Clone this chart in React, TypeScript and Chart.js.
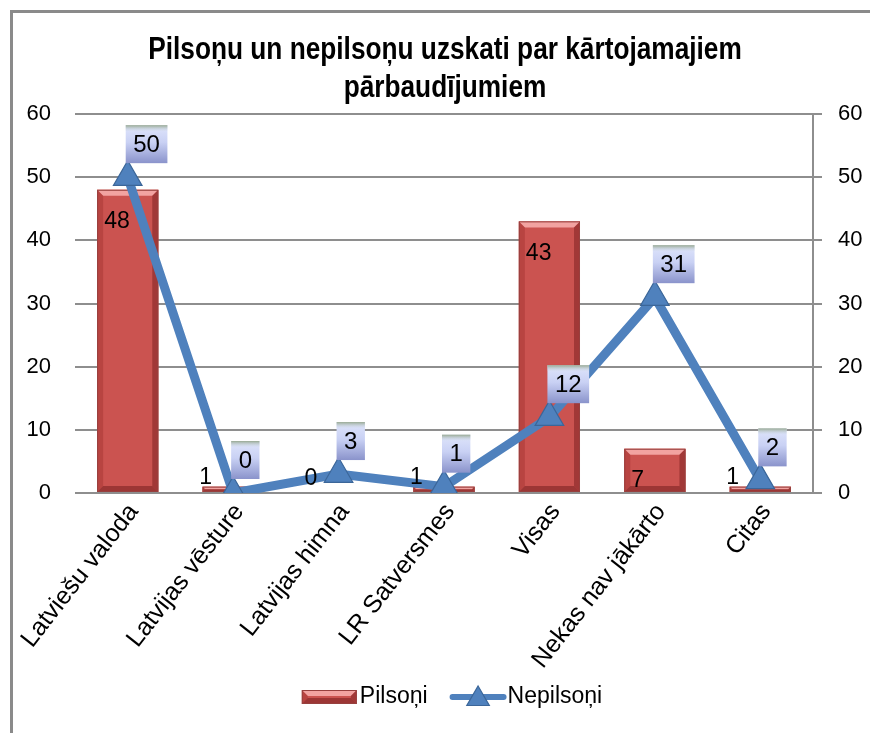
import React, { useEffect, useRef } from "react";
import { Chart, registerables } from "chart.js";

Chart.register(...registerables);

const categories = [
  "Latviešu valoda",
  "Latvijas vēsture",
  "Latvijas himna",
  "LR Satversmes",
  "Visas",
  "Nekas nav jākārto",
  "Citas",
];
const pilsoni = [48, 1, 0, 1, 43, 7, 1];
const nepilsoni = [50, 0, 3, 1, 12, 31, 2];
const seriesNames = ["Pilsoņi", "Nepilsoņi"];
const titleLines = ["Pilsoņu un nepilsoņu uzskati par kārtojamajiem", "pārbaudījumiem"];
const yMin = 0;
const yMax = 60;
const yStep = 10;

const FONT = "'Liberation Sans', Arial, sans-serif";
const BAR_COLOR = "#cb5350";
const LINE_COLOR = "#4f81bd";
const GRID = "#8e8e8e";

const TITLE_SIZE = 32;
const TITLE_LH = 38;
const TITLE_PAD_TOP = 31;
const TITLE_SQUEEZE = 0.82;

function drawBevelRect(ctx: CanvasRenderingContext2D, left: number, top: number, right: number, bottom: number) {
  const w = right - left;
  const h = bottom - top;
  if (h <= 0 || w <= 0) return;
  ctx.save();
  ctx.fillStyle = BAR_COLOR;
  ctx.fillRect(left, top, w, h);
  const b = Math.min(6, h / 2, w / 2);
  ctx.fillStyle = "rgba(255,190,188,0.75)";
  ctx.beginPath();
  ctx.moveTo(left, top);
  ctx.lineTo(right, top);
  ctx.lineTo(right - b, top + b);
  ctx.lineTo(left + b, top + b);
  ctx.closePath();
  ctx.fill();
  ctx.fillStyle = "rgba(150,40,38,0.35)";
  ctx.beginPath();
  ctx.moveTo(left, top);
  ctx.lineTo(left + b, top + b);
  ctx.lineTo(left + b, bottom - b);
  ctx.lineTo(left, bottom);
  ctx.closePath();
  ctx.fill();
  ctx.fillStyle = "rgba(110,25,24,0.45)";
  ctx.beginPath();
  ctx.moveTo(right, top);
  ctx.lineTo(right - b, top + b);
  ctx.lineTo(right - b, bottom - b);
  ctx.lineTo(right, bottom);
  ctx.closePath();
  ctx.fill();
  ctx.fillStyle = "rgba(100,20,20,0.45)";
  ctx.beginPath();
  ctx.moveTo(left, bottom);
  ctx.lineTo(left + b, bottom - b);
  ctx.lineTo(right - b, bottom - b);
  ctx.lineTo(right, bottom);
  ctx.closePath();
  ctx.fill();
  ctx.strokeStyle = "#97403e";
  ctx.lineWidth = 1;
  ctx.strokeRect(left + 0.5, top + 0.5, w - 1, h - 1);
  ctx.restore();
}

const borderPlugin = {
  id: "outerBorder",
  beforeDraw(chart: any) {
    const ctx = chart.ctx as CanvasRenderingContext2D;
    ctx.save();
    ctx.fillStyle = "#ffffff";
    ctx.fillRect(0, 0, chart.width, chart.height);
    ctx.strokeStyle = "#8a8a8a";
    ctx.lineWidth = 3;
    ctx.beginPath();
    ctx.moveTo(11.5, chart.height);
    ctx.lineTo(11.5, 11.5);
    ctx.lineTo(chart.width, 11.5);
    ctx.stroke();
    ctx.restore();
  },
};

const titlePlugin = {
  id: "narrowTitle",
  afterDraw(chart: any) {
    const ctx = chart.ctx as CanvasRenderingContext2D;
    ctx.save();
    ctx.font = `bold ${TITLE_SIZE}px ${FONT}`;
    ctx.fillStyle = "#000";
    ctx.textAlign = "center";
    ctx.textBaseline = "middle";
    const cx = chart.width / 2 + 10;
    titleLines.forEach((line, i) => {
      ctx.save();
      ctx.translate(cx, TITLE_PAD_TOP + TITLE_LH / 2 + i * TITLE_LH);
      ctx.scale(TITLE_SQUEEZE, 1);
      ctx.fillText(line, 0, 0);
      ctx.restore();
    });
    ctx.restore();
  },
};

const bevelPlugin = {
  id: "barBevel",
  afterDatasetDraw(chart: any, args: any) {
    if (args.index !== 0) return;
    const ctx = chart.ctx as CanvasRenderingContext2D;
    args.meta.data.forEach((el: any) => {
      const p = el.getProps(["x", "y", "base", "width"], true);
      drawBevelRect(ctx, p.x - p.width / 2, p.y, p.x + p.width / 2, p.base);
    });
  },
};

const labelPlugin = {
  id: "valueLabels",
  afterDatasetsDraw(chart: any) {
    const ctx = chart.ctx as CanvasRenderingContext2D;
    ctx.save();
    ctx.font = `23px ${FONT}`;
    ctx.fillStyle = "#000";
    ctx.textBaseline = "middle";
    const barMeta = chart.getDatasetMeta(0);
    barMeta.data.forEach((el: any, i: number) => {
      const p = el.getProps(["x", "y", "base", "width"], true);
      const v = pilsoni[i];
      const left = p.x - p.width / 2;
      if (v >= 5) {
        ctx.textAlign = "left";
        ctx.fillText(String(v), left + 7, p.y + 32);
      } else {
        ctx.textAlign = "center";
        ctx.fillText(String(v), left + 3, p.base - 14);
      }
    });
    const lineMeta = chart.getDatasetMeta(1);
    ctx.font = `24px ${FONT}`;
    lineMeta.data.forEach((el: any, i: number) => {
      const p = el.getProps(["x", "y"], true);
      const txt = String(nepilsoni[i]);
      const tw = ctx.measureText(txt).width;
      const bw = tw + 15;
      const bh = 38;
      const bx = p.x - 2;
      const by = p.y - 14 - bh;
      const g = ctx.createLinearGradient(0, by, 0, by + bh);
      g.addColorStop(0, "#dfe5fb");
      g.addColorStop(0.45, "#c9d1f4");
      g.addColorStop(1, "#8a93cb");
      ctx.fillStyle = g;
      ctx.fillRect(bx, by, bw, bh);
      const g2 = ctx.createLinearGradient(0, by, 0, by + 6);
      g2.addColorStop(0, "#97a891");
      g2.addColorStop(1, "rgba(210,220,235,0.2)");
      ctx.fillStyle = g2;
      ctx.fillRect(bx, by, bw, 6);
      ctx.fillStyle = "#000";
      ctx.textAlign = "center";
      ctx.fillText(txt, bx + bw / 2, by + bh / 2 + 1);
    });
    ctx.restore();
  },
};

function drawTriangle(ctx: CanvasRenderingContext2D, cx: number, cy: number, r: number) {
  ctx.beginPath();
  ctx.moveTo(cx, cy - r);
  ctx.lineTo(cx + r * 0.866, cy + r * 0.5);
  ctx.lineTo(cx - r * 0.866, cy + r * 0.5);
  ctx.closePath();
  ctx.fillStyle = LINE_COLOR;
  ctx.fill();
  ctx.strokeStyle = "#3b6699";
  ctx.lineWidth = 1.2;
  ctx.stroke();
}

const legendPlugin = {
  id: "customLegend",
  afterDraw(chart: any) {
    const ctx = chart.ctx as CanvasRenderingContext2D;
    const area = chart.chartArea;
    ctx.save();
    ctx.font = `23px ${FONT}`;
    ctx.textBaseline = "middle";
    ctx.textAlign = "left";
    const t1 = ctx.measureText(seriesNames[0]).width;
    const t2 = ctx.measureText(seriesNames[1]).width;
    const sw1 = 55;
    const sw2 = 57;
    const total = sw1 + 3 + t1 + 22 + sw2 + 1 + t2;
    const cx = (area.left + area.right) / 2 + 8;
    const cy = 697;
    let x = cx - total / 2;
    drawBevelRect(ctx, x, cy - 7, x + sw1, cy + 7);
    x += sw1 + 3;
    ctx.fillStyle = "#000";
    ctx.fillText(seriesNames[0], x, cy);
    x += t1 + 22;
    ctx.strokeStyle = LINE_COLOR;
    ctx.lineWidth = 6;
    ctx.lineCap = "round";
    ctx.beginPath();
    ctx.moveTo(x + 3, cy);
    ctx.lineTo(x + sw2 - 3, cy);
    ctx.stroke();
    drawTriangle(ctx, x + sw2 / 2, cy + 2, 13);
    x += sw2 + 1;
    ctx.fillStyle = "#000";
    ctx.fillText(seriesNames[1], x, cy);
    ctx.restore();
  },
};

export default function App() {
  const canvasRef = useRef<HTMLCanvasElement | null>(null);

  useEffect(() => {
    document.body.style.margin = "0";
    const canvas = canvasRef.current;
    if (!canvas) return;
    const chart = new Chart(canvas, {
      type: "bar",
      data: {
        labels: categories,
        datasets: [
          {
            type: "bar",
            label: seriesNames[0],
            data: pilsoni,
            backgroundColor: BAR_COLOR,
            borderWidth: 0,
            categoryPercentage: 1,
            barPercentage: 0.58,
            yAxisID: "y",
            order: 2,
          },
          {
            type: "line",
            label: seriesNames[1],
            data: nepilsoni,
            borderColor: LINE_COLOR,
            borderWidth: 9,
            tension: 0,
            pointStyle: "triangle",
            pointRadius: 16.5,
            pointBackgroundColor: LINE_COLOR,
            pointBorderColor: "#3b6699",
            pointBorderWidth: 1.2,
            yAxisID: "y1",
            order: 1,
          } as any,
        ],
      },
      options: {
        responsive: false,
        animation: false,
        devicePixelRatio: 1,
        layout: { padding: { left: 0, right: 0, top: 0, bottom: 60 } },
        plugins: {
          legend: { display: false },
          tooltip: { enabled: false },
          title: {
            display: true,
            text: titleLines,
            color: "rgba(0,0,0,0)",
            font: { family: FONT, size: TITLE_SIZE, weight: "bold", lineHeight: TITLE_LH / TITLE_SIZE },
            padding: { top: TITLE_PAD_TOP, bottom: 7 },
          },
        },
        scales: {
          x: {
            grid: { display: false },
            border: { display: false },
            ticks: {
              color: "#000",
              font: { family: FONT, size: 25 },
              maxRotation: 52,
              minRotation: 52,
              padding: -3,
              labelOffset: 6,
              autoSkip: false,
            },
            afterFit: (scale: any) => {
              scale.height = 180;
            },
          },
          y: {
            position: "left",
            min: yMin,
            max: yMax,
            ticks: {
              stepSize: yStep,
              color: "#000",
              font: { family: FONT, size: 22 },
              padding: 24,
            },
            grid: { color: GRID, lineWidth: 2, drawTicks: false },
            border: { display: false },
            afterFit: (scale: any) => {
              scale.width = 75;
            },
          },
          y1: {
            position: "right",
            min: yMin,
            max: yMax,
            ticks: {
              stepSize: yStep,
              color: "#000",
              font: { family: FONT, size: 22 },
              padding: 16,
            },
            grid: {
              drawOnChartArea: false,
              drawTicks: true,
              tickLength: 9,
              color: GRID,
              lineWidth: 2,
            },
            border: { display: true, color: GRID, width: 2 },
            afterFit: (scale: any) => {
              scale.width = 57;
            },
          },
        },
      },
      plugins: [borderPlugin, bevelPlugin, labelPlugin, legendPlugin, titlePlugin],
    });
    return () => chart.destroy();
  }, []);

  return (
    <div style={{ width: 870, height: 733, position: "relative" }}>
      <canvas ref={canvasRef} width={870} height={733} style={{ width: 870, height: 733, display: "block" }} />
    </div>
  );
}
